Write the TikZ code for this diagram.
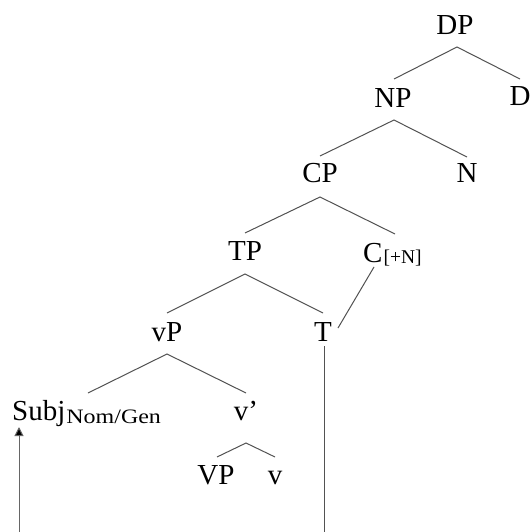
\documentclass[tikz,border=0pt]{standalone}
\usepackage{fontspec}
\setmainfont{Liberation Serif}
\usetikzlibrary{calc,arrows.meta}
\newcommand{\subsz}{\fontsize{19.5}{19.5}\selectfont}
\newcommand{\subszb}{\fontsize{20.5}{20.5}\selectfont}
\begin{document}
\begin{tikzpicture}[x=1pt,y=-1pt,
  lab/.style={font=\fontsize{29}{29}\selectfont, inner sep=0pt, anchor=base},
  labw/.style={font=\fontsize{29}{29}\selectfont, inner sep=0pt, anchor=base west},
  br/.style={draw=black!68, line width=1pt},
  mv/.style={draw=black!60, line width=1pt, -{Triangle[length=9pt,width=9pt,fill=black]}}]
\useasboundingbox[fill=white] (0,0) rectangle (532,532);
% nodes
\node[lab] (dp) at (455,35) {DP};
\node[lab] (np) at (393,107) {NP};
\node[lab] (d) at (520,106) {D};
\node[lab] (cp) at (320,182) {CP};
\node[lab] (n) at (467,182) {N};
\node[lab] (tp) at (245,260) {TP};
\node[labw] (c) at (363,262) {C\kern1pt\raisebox{-1pt}{\subsz [+N]}};
\node[lab] (vp) at (167,341) {vP};
\node[lab] (t) at (323,341) {T};
\node[labw] (subj) at (12,420) {Subj\kern1pt\raisebox{-3pt}{\subszb\scalebox{1.17}[1]{Nom/Gen}}};
\node[lab] (vbar) at (246,420) {v’};
\node[lab] (vpp) at (216,484) {VP};
\node[lab] (vv) at (275,484) {v};
\coordinate (tbot) at (324,532);
\coordinate (abot) at (19,532);
% branches
\draw[br] ($(np.base)+(1,-28)$) -- ($(dp.base)+(2,12)$) -- ($(d.base)+(0,-27)$);
\draw[br] ($(cp.base)+(0,-26)$) -- ($(np.base)+(1,13)$) -- ($(n.base)+(0,-25)$);
\draw[br] ($(tp.base)+(0,-27)$) -- ($(cp.base)+(0,15)$) -- ($(c.base west)+(32,-28)$);
\draw[br] ($(vp.base)+(0,-28)$) -- ($(tp.base)+(0,14)$) -- ($(t.base)+(0,-28)$);
\draw[br] ($(c.base west)+(11,5)$) -- ($(t.base)+(15,-13)$);
\draw[br] ($(subj.base west)+(76,-27)$) -- ($(vp.base)+(0,13)$) -- ($(vbar.base)+(0,-27)$);
\draw[br] ($(vpp.base)+(1,-27)$) -- ($(vbar.base)+(0,23)$) -- ($(vv.base)+(0,-27)$);
\draw[br] ($(t.base)+(1,5)$) -- (tbot);
\draw[mv] (abot) -- ($(subj.base west)+(7,7)$);
\end{tikzpicture}
\end{document}
